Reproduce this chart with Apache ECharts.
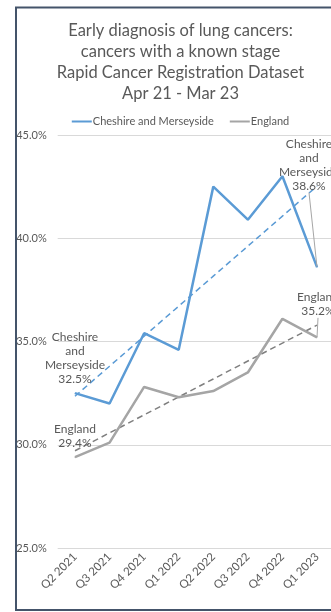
<!DOCTYPE html>
<html>
<head>
<meta charset="utf-8">
<script src="https://cdn.jsdelivr.net/npm/echarts@6/dist/echarts.min.js"></script>
<style>
html,body{margin:0;padding:0;background:#fff;overflow:hidden;width:331px;height:612px;}
#c{width:361px;height:612px;}
</style>
</head>
<body>
<div id="c"></div>
<script>
const categories = ['Q2 2021','Q3 2021','Q4 2021','Q1 2022','Q2 2022','Q3 2022','Q4 2022','Q1 2023'];
const cheshire = [32.5, 32.0, 35.4, 34.6, 42.5, 40.9, 43.0, 38.6];
const england = [29.4, 30.1, 32.8, 32.3, 32.6, 33.5, 36.1, 35.2];
const yTicks = {min: 25, max: 45, interval: 5};
const titleText = 'Early diagnosis of lung cancers:\ncancers with a known stage\nRapid Cancer Registration Dataset\nApr 21 - Mar 23';

function trend(vals){
  const n = vals.length;
  let sx=0, sy=0, sxy=0, sxx=0;
  vals.forEach((v,i)=>{sx+=i; sy+=v; sxy+=i*v; sxx+=i*i;});
  const b = (n*sxy - sx*sy)/(n*sxx - sx*sx);
  const a = (sy - b*sx)/n;
  return vals.map((v,i)=>+(a+b*i).toFixed(3));
}

const FONT = 'Lato';
const TXT = '#595959';

function labelled(vals, name, first, last){
  const nameLines = name.split(' ').join('\n');
  return vals.map((v,i)=>{
    if(i===0 || i===vals.length-1){
      const cfg = i===0 ? first : last;
      return {
        value: v,
        label: {
          show: true,
          position: 'top',
          distance: cfg.distance,
          offset: cfg.offset,
          formatter: nameLines + '\n' + v.toFixed(1) + '%',
          color: TXT, fontFamily: FONT, fontSize: 12, lineHeight: 14, align: 'center'
        },
        labelLine: {show: cfg.line, lineStyle: {color: '#a6a6a6', width: 1}}
      };
    }
    return v;
  });
}

const moves = {
  0: {7: {dx: -8, dy: -67}},
  1: {7: {dx: 1, dy: -12}}
};

const chart = echarts.init(document.getElementById('c'), null, {renderer: 'canvas'});
chart.setOption({
  animation: false,
  backgroundColor: '#fff',
  title: {
    text: titleText,
    left: 'center',
    top: 15,
    textStyle: {color: TXT, fontFamily: FONT, fontSize: 16.5, fontWeight: 'normal', lineHeight: 21}
  },
  legend: {
    data: ['Cheshire and Merseyside', 'England'],
    left: 'center',
    top: 111,
    itemWidth: 20,
    itemHeight: 2,
    itemGap: 16,
    icon: 'rect',
    textStyle: {color: TXT, fontFamily: FONT, fontSize: 11, padding: [0,0,0,-4]}
  },
  grid: {left: 57.7, width: 276.6, top: 135, bottom: 64, containLabel: false},
  xAxis: {
    type: 'category',
    data: categories,
    boundaryGap: true,
    axisLine: {show: false},
    axisTick: {show: false},
    axisLabel: {rotate: 45, color: TXT, fontFamily: FONT, fontSize: 11.5, margin: 7, interval: 0}
  },
  yAxis: {
    type: 'value',
    min: yTicks.min, max: yTicks.max, interval: yTicks.interval,
    axisLine: {show: false},
    axisTick: {show: false},
    splitLine: {lineStyle: {color: '#d9d9d9', width: 1}},
    axisLabel: {color: TXT, fontFamily: FONT, fontSize: 11, margin: 11, formatter: v => v.toFixed(1) + '%'}
  },
  graphic: [{
    type: 'rect',
    shape: {x: 16, y: 7.5, width: 330, height: 602.5},
    style: {fill: 'none', stroke: '#44546a', lineWidth: 2},
    silent: true, z: 100
  }],
  series: [
    {
      name: 'Cheshire trend', type: 'line', data: trend(cheshire),
      symbol: 'none', silent: true,
      lineStyle: {color: '#5b9bd5', width: 1.5, type: [6,4]}, z: 1
    },
    {
      name: 'England trend', type: 'line', data: trend(england),
      symbol: 'none', silent: true,
      lineStyle: {color: '#7f7f7f', width: 1.5, type: [6,4]}, z: 1
    },
    {
      name: 'Cheshire and Merseyside', type: 'line',
      data: labelled(cheshire, 'Cheshire and Merseyside', {distance: 7, offset: [-3,0], line: false}, {distance: 7, offset: [0,0], line: true}),
      symbol: 'circle', symbolSize: 1, showSymbol: true,
      itemStyle: {color: '#5b9bd5'},
      lineStyle: {color: '#5b9bd5', width: 2.5}, z: 2,
      labelLayout: p => (p.dataIndex === 7 ? moves[0][7] : {})
    },
    {
      name: 'England', type: 'line',
      data: labelled(england, 'England', {distance: 6.5, offset: [2,0], line: false}, {distance: 7, offset: [0,0], line: true}),
      symbol: 'circle', symbolSize: 1, showSymbol: true,
      itemStyle: {color: '#a5a5a5'},
      lineStyle: {color: '#a5a5a5', width: 2.5}, z: 2,
      labelLayout: p => (p.dataIndex === 7 ? moves[1][7] : {})
    }
  ]
});
</script>
</body>
</html>
